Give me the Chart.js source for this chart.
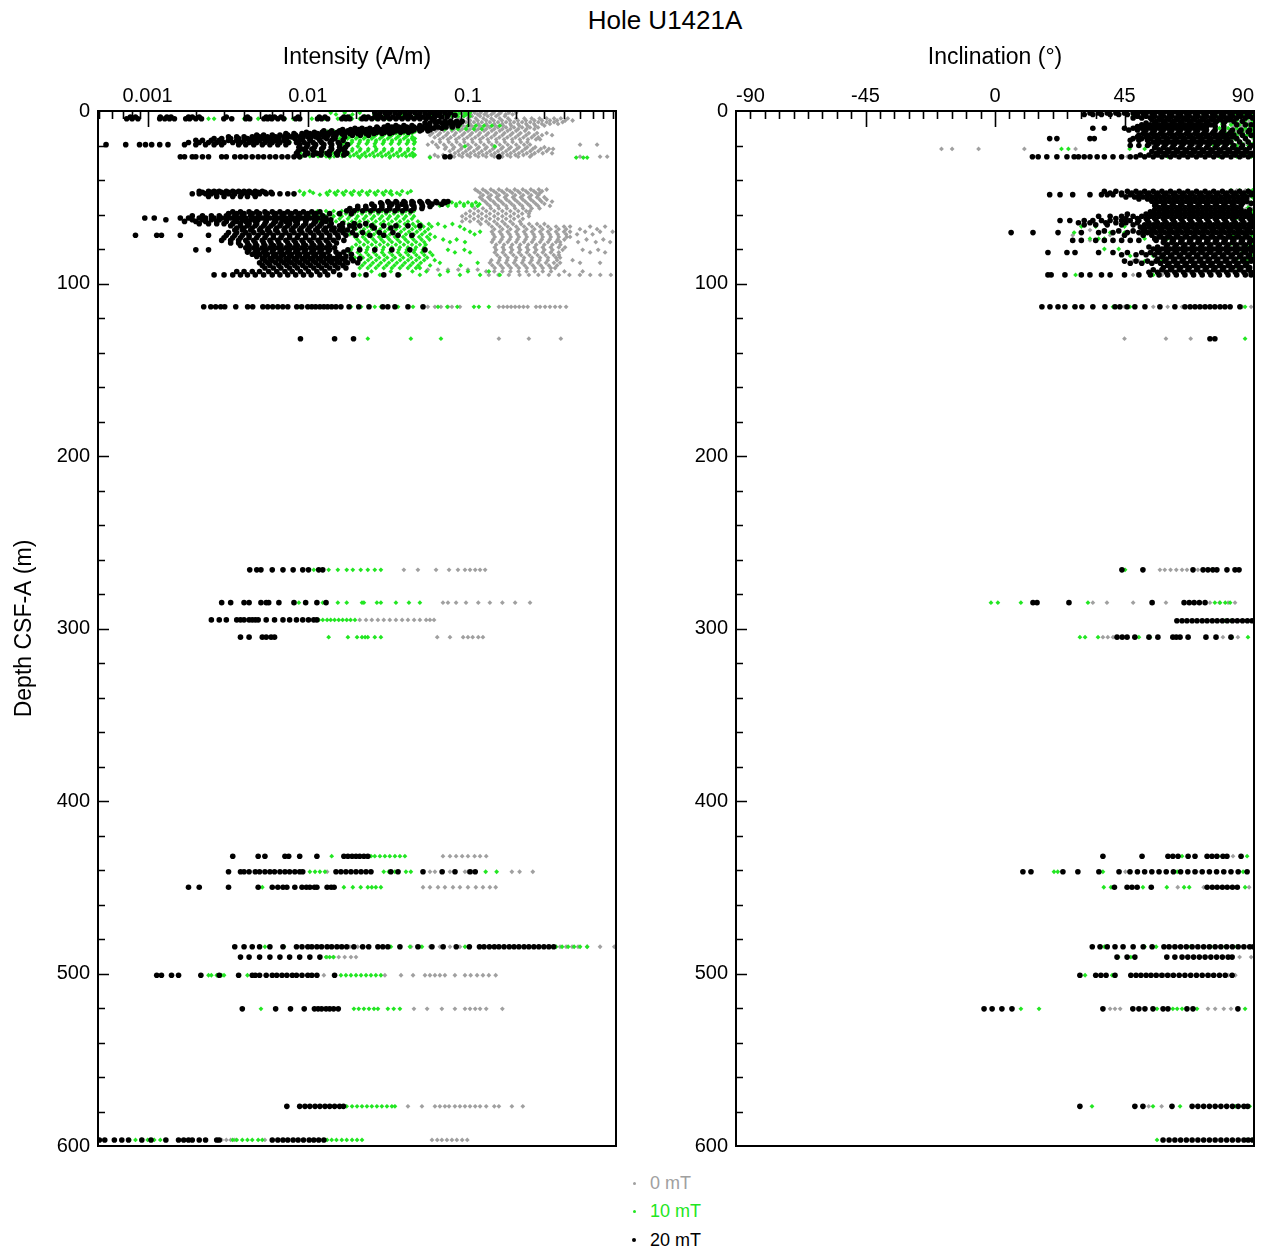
<!DOCTYPE html>
<html>
<head>
<meta charset="utf-8">
<script src="https://cdn.jsdelivr.net/npm/chart.js@4.4.1/dist/chart.umd.min.js"></script>
<style>
  body { margin: 0; background: #fff; font-family: 'Liberation Sans', Arial, sans-serif; }
  #page { position: relative; width: 1267px; height: 1251px; overflow: hidden; }
  #title { position: absolute; left: 0; top: 4px; width: 1330px; text-align: center; font-size: 26px; line-height: 32px; }
  .panel { position: absolute; top: 0; height: 1166px; }
  #intWrap { left: 0; width: 640px; }
  #incWrap { left: 640px; width: 627px; }
  #legend { position: absolute; left: 626px; top: 1169px; font-size: 18px; }
  .key { height: 28.5px; display: flex; align-items: center; }
  .key span.m { width: 16px; display: flex; justify-content: center; margin-right: 8px; }
  .key i { display: block; border-radius: 50%; }
</style>
</head>
<body>
<div id="page">
  <div id="title">Hole U1421A</div>
  <div class="panel" id="intWrap"><canvas id="intChart"></canvas></div>
  <div class="panel" id="incWrap"><canvas id="incChart"></canvas></div>
  <div id="legend"></div>
</div>
<script>
Chart.defaults.font.family = "'Liberation Sans', Arial, sans-serif";
Chart.defaults.color = '#000';

// ── Series / axes ───────────────────────────────────────────
const seriesNames  = ['0 mT', '10 mT', '20 mT'];
const seriesColors = ['#a0a0a0', '#22e622', '#000000'];
const depthLabels = [0, 100, 200, 300, 400, 500, 600];
const intensityLabels = [0.001, 0.01, 0.1];
const inclinationLabels = [-90, -45, 0, 45, 90];

// rows: [depth (m), [values at that depth]]
const intensity0 = [
  [1, [0.06,0.065,0.072,0.08,0.088,0.1,0.11,0.12,0.13,0.145,0.16,0.18,0.2]],
  [2, [0.062,0.069,0.076,0.084,0.093,0.104,0.115,0.127,0.14,0.155,0.172,0.19]],
  [3, [0.0668,0.075,0.0843,0.0944,0.106,0.119,0.133,0.15,0.17]],
  [4.3, [0.07,0.079,0.088,0.1,0.112,0.125,0.14,0.158,0.178,0.2,0.225,0.25,0.28,0.31,0.345,0.38,0.42]],
  [5.5, [0.103,0.115,0.13,0.145,0.163,0.183,0.205,0.23,0.26,0.29,0.325,0.36,0.405,0.45]],
  [6.5, [0.097,0.109,0.122,0.137,0.154,0.173,0.194,0.218,0.245,0.275,0.31,0.345,0.39]],
  [7.5, [0.092,0.103,0.116,0.13,0.146,0.164,0.184,0.206,0.231,0.259,0.29,0.325,0.365]],
  [8.5, [0.083,0.093,0.105,0.118,0.132,0.148,0.166,0.186,0.209,0.235,0.263,0.3]],
  [9.5, [0.0772,0.0866,0.097,0.109,0.122,0.137,0.154,0.173,0.194,0.218,0.244,0.274]],
  [10.5, [0.065,0.073,0.082,0.092,0.103,0.116,0.13,0.146,0.164,0.184,0.206,0.232,0.26]],
  [11.5, [0.0562,0.063,0.0708,0.0794,0.0891,0.1,0.112,0.126,0.141,0.158,0.177,0.2,0.227]],
  [12.8, [0.06,0.067,0.075,0.084,0.095,0.106,0.119,0.134,0.15,0.169,0.19,0.213,0.24,0.27,0.31]],
  [14, [0.058,0.065,0.073,0.082,0.092,0.103,0.116,0.13,0.146,0.164,0.184,0.206,0.231,0.259,0.29,0.335]],
  [15.3, [0.062,0.07,0.078,0.088,0.099,0.111,0.124,0.14,0.157,0.176,0.198,0.222,0.25,0.275]],
  [16.5, [0.0668,0.075,0.0843,0.0944,0.106,0.119,0.133,0.15,0.168,0.189,0.211,0.237,0.266,0.282]],
  [18, [0.06,0.067,0.076,0.085,0.095,0.107,0.12,0.135,0.151,0.17,0.19,0.214,0.235]],
  [19.5, [0.0562,0.0632,0.0708,0.0794,0.0891,0.1,0.112,0.126,0.141,0.158,0.177,0.2,0.224,0.244,0.501,0.64]],
  [21, [0.065,0.073,0.082,0.092,0.104,0.117,0.131,0.147,0.165,0.185,0.208,0.234,0.263,0.3]],
  [22, [0.0718,0.0806,0.0904,0.101,0.114,0.128,0.143,0.161,0.18,0.202,0.227,0.254,0.285,0.32,0.34]],
  [23.3, [0.077,0.087,0.097,0.109,0.122,0.137,0.154,0.173,0.194,0.218,0.245,0.275,0.31]],
  [24.5, [0.0829,0.093,0.104,0.117,0.131,0.147,0.165,0.185,0.208,0.233,0.261,0.293,0.335]],
  [25.5, [0.062,0.07,0.078,0.088,0.099,0.111,0.124,0.14,0.157,0.176,0.198,0.222,0.25]],
  [26.5, [0.0579,0.065,0.073,0.082,0.092,0.103,0.116,0.13,0.146,0.164,0.184,0.206,0.244,0.501,0.668,0.74]],
  [45.5, [0.111,0.124,0.139,0.156,0.175,0.196,0.22,0.247,0.277,0.31]],
  [46.5, [0.115,0.129,0.145,0.163,0.183,0.205,0.23,0.258,0.29]],
  [47.5, [0.119,0.133,0.15,0.168,0.189,0.211,0.237,0.266,0.282]],
  [48.8, [0.124,0.139,0.156,0.175,0.197,0.221,0.248,0.275]],
  [50, [0.119,0.134,0.151,0.17,0.191,0.214,0.241,0.27,0.3]],
  [51.3, [0.123,0.138,0.155,0.174,0.196,0.22,0.247,0.28,0.31]],
  [52.5, [0.128,0.144,0.161,0.181,0.203,0.228,0.256,0.288,0.335]],
  [53.8, [0.132,0.148,0.166,0.187,0.21,0.236,0.265,0.3]],
  [55, [0.137,0.154,0.173,0.194,0.218,0.244,0.274,0.325]],
  [56.5, [0.11,0.124,0.139,0.156,0.175,0.197,0.221,0.25,0.28]],
  [58, [0.103,0.116,0.13,0.146,0.164,0.184,0.206,0.231,0.244]],
  [59.5, [0.097,0.109,0.122,0.137,0.154,0.173,0.194,0.218,0.24]],
  [61, [0.092,0.103,0.116,0.13,0.146,0.164,0.184,0.206,0.24]],
  [62.5, [0.097,0.109,0.122,0.137,0.154,0.173,0.194,0.22]],
  [64, [0.092,0.103,0.116,0.13,0.146,0.164,0.184,0.211]],
  [65.5, [0.12,0.135,0.152,0.17,0.191,0.215,0.241,0.27,0.3]],
  [67, [0.141,0.158,0.177,0.2,0.224,0.251,0.282,0.316,0.355,0.398,0.434,0.579,0.718]],
  [68.5, [0.146,0.164,0.184,0.206,0.232,0.26,0.292,0.328,0.368,0.41,0.5,0.64]],
  [70, [0.141,0.158,0.177,0.2,0.224,0.251,0.282,0.316,0.355,0.398,0.434,0.539,0.668,0.8]],
  [71.5, [0.144,0.162,0.182,0.204,0.229,0.257,0.289,0.324,0.364,0.41,0.48,0.6]],
  [73, [0.147,0.165,0.185,0.208,0.233,0.261,0.293,0.329,0.369,0.414,0.434]],
  [74.5, [0.144,0.162,0.182,0.204,0.229,0.257,0.289,0.324,0.364,0.4,0.55,0.7]],
  [76, [0.141,0.158,0.177,0.2,0.224,0.251,0.282,0.316,0.355,0.376,0.487,0.628,0.772]],
  [77.5, [0.15,0.168,0.189,0.212,0.238,0.267,0.3,0.337,0.378]],
  [79, [0.147,0.165,0.185,0.208,0.233,0.261,0.293,0.329,0.369,0.404]],
  [80.5, [0.15,0.168,0.189,0.212,0.238,0.267,0.3,0.337,0.39,0.52,0.65]],
  [82, [0.147,0.165,0.185,0.208,0.233,0.261,0.293,0.329,0.369,0.579,0.718]],
  [83.5, [0.152,0.171,0.192,0.215,0.242,0.272,0.305,0.343,0.37]],
  [85, [0.158,0.177,0.2,0.224,0.251,0.282,0.316,0.355,0.376]],
  [86.5, [0.14,0.157,0.176,0.198,0.222,0.25,0.28,0.315,0.36,0.45]],
  [88, [0.137,0.154,0.173,0.194,0.218,0.244,0.274,0.307,0.344,0.376,0.501,0.668]],
  [89.5, [0.142,0.16,0.179,0.201,0.226,0.254,0.285,0.32,0.36]],
  [91, [0.147,0.165,0.185,0.208,0.233,0.261,0.293,0.329,0.35]],
  [92, [0.0562,0.065,0.075,0.087,0.1,0.115]],
  [93, [0.13,0.146,0.164,0.184,0.207,0.232,0.261,0.293,0.33,0.4,0.52]],
  [95, [0.135,0.155,0.18,0.21,0.24,0.275,0.32,0.37,0.43,0.5,0.58,0.67,0.78]],
  [113.5, [0.0562,0.0622,0.0678,0.075,0.0794,0.0891,0.156,0.166,0.176,0.186,0.197,0.209,0.222,0.236,0.266,0.282,0.303,0.325,0.35,0.376,0.41]],
  [132, [0.156,0.24,0.38]],
  [266, [0.0398,0.0487,0.0632,0.0762,0.0866,0.0958,0.103,0.111,0.119,0.128]],
  [285, [0.0698,0.075,0.0843,0.0972,0.116,0.137,0.164,0.197,0.244]],
  [295, [0.0211,0.0231,0.0251,0.0274,0.0298,0.0325,0.0355,0.0388,0.0422,0.0461,0.0501,0.0548,0.0579,0.0614]],
  [305, [0.0643,0.0772,0.0933,0.1,0.107,0.116,0.124]],
  [432, [0.0698,0.0772,0.0843,0.092,0.1,0.11,0.119,0.13]],
  [441, [0.0132,0.0579,0.0622,0.0772,0.0958,0.1,0.106,0.188,0.21,0.254]],
  [450, [0.0524,0.0579,0.065,0.0718,0.0806,0.0891,0.1,0.112,0.124,0.137,0.149]],
  [484.5, [0.0103,0.0119,0.0137,0.0158,0.0183,0.0205,0.0224,0.0441,0.0501,0.0579,0.0668,0.0772,0.0891,0.103,0.119,0.137,0.149,0.376,0.41,0.447,0.487,0.555,0.668,0.82]],
  [490.5, [0.0132,0.0144,0.0156,0.017,0.0186,0.02]],
  [501, [0.0126,0.0303,0.0382,0.0454,0.0539,0.0579,0.0622,0.0668,0.0718,0.0829,0.0958,0.104,0.114,0.124,0.135,0.149]],
  [520.5, [0.046,0.0556,0.0687,0.0829,0.0958,0.103,0.111,0.119,0.13,0.164]],
  [577, [0.0422,0.0516,0.0622,0.0668,0.0718,0.0762,0.0829,0.0891,0.0958,0.103,0.111,0.119,0.13,0.146,0.156,0.188,0.22]],
  [596.5, [0.0029,0.0031,0.0033,0.0035,0.0054,0.0596,0.0643,0.0687,0.0739,0.0794,0.0852,0.092,0.099]]
];

const intensity10 = [
  [1, [0.0139,0.017,0.0211,0.035,0.0434,0.0668,0.0772,0.0829,0.0891,0.0958,0.103]],
  [2, [0.015,0.019,0.026,0.031,0.039,0.047,0.06,0.072,0.085,0.098]],
  [3, [0.0183,0.0227,0.0303,0.0388,0.0501,0.0579,0.0739,0.0794,0.0866,0.0944,0.103]],
  [4.5, [0.0024,0.0026,0.004,0.0049,0.0072,0.0081,0.0089,0.0106,0.0128,0.0154,0.0178,0.0189,0.0211,0.0266,0.0316]],
  [8.5, [0.0794,0.0891,0.1,0.112,0.126,0.141,0.158]],
  [10.5, [0.0718,0.0794,0.0866,0.0972,0.109,0.122]],
  [12, [0.0133,0.0147,0.017,0.0197,0.0227,0.0262,0.0303,0.035,0.0404,0.0466]],
  [13, [0.0126,0.014,0.0158,0.0178,0.02,0.0224,0.0251,0.0282,0.0316,0.0355,0.0398,0.0447]],
  [14, [0.0119,0.0133,0.015,0.0168,0.0189,0.0211,0.0237,0.0266,0.0298,0.0335,0.0376,0.0422]],
  [15, [0.0115,0.0129,0.0145,0.0163,0.0183,0.0205,0.023,0.0258,0.029,0.0325,0.0365,0.041,0.045]],
  [16, [0.0158,0.0177,0.02,0.0224,0.0251,0.0282,0.0316,0.0355,0.0398,0.0447,0.0466]],
  [17, [0.0168,0.0189,0.0212,0.0238,0.0267,0.03,0.0336,0.0377,0.0423,0.0458]],
  [18, [0.0077,0.0087,0.017,0.0189,0.0211,0.0237,0.0266,0.0298,0.0335,0.0376,0.0422,0.0466]],
  [19, [0.0165,0.0185,0.0208,0.0233,0.0262,0.0294,0.033,0.037,0.0415,0.046]],
  [20.5, [0.0205,0.0262,0.0958,0.147]],
  [22, [0.019,0.0213,0.0239,0.0268,0.03,0.0337,0.0378,0.0424,0.046]],
  [23, [0.0189,0.0211,0.0237,0.0266,0.0298,0.0335,0.0376,0.0422]],
  [24.3, [0.009,0.0101,0.0114,0.0128,0.0143,0.0161,0.018,0.0202,0.0227,0.0255,0.0286,0.032,0.036,0.0404,0.045]],
  [25.5, [0.0085,0.0096,0.0108,0.0122,0.0137,0.0154,0.0173,0.0194,0.0218,0.0244,0.0274,0.0307,0.0344,0.0388,0.0434,0.0466]],
  [26.3, [0.0092,0.0103,0.0116,0.013,0.0146,0.0164,0.0184,0.0206,0.0231,0.026,0.0291,0.0327,0.0367,0.0412,0.0455]],
  [27, [0.0089,0.0137,0.0211,0.0325,0.0579,0.474,0.525,0.555]],
  [46.5, [0.0089,0.0103,0.0137,0.0154,0.0173,0.0194,0.0218,0.0244,0.0274,0.0307,0.033,0.0388,0.044]],
  [47.5, [0.0095,0.0108,0.0131,0.0147,0.0165,0.0185,0.0208,0.0233,0.0261,0.0293,0.0325,0.036,0.042]],
  [48.5, [0.0082,0.0094,0.0119,0.0133,0.015,0.0168,0.0189,0.0211,0.0237,0.0266,0.0298,0.0335,0.0376]],
  [53, [0.0562,0.0632,0.0708,0.0794,0.0891,0.1,0.112]],
  [54, [0.0595,0.0668,0.075,0.0843,0.0944,0.106,0.118]],
  [55, [0.0668,0.075,0.0843,0.0944,0.106,0.115]],
  [58, [0.0115,0.013,0.0145,0.0163,0.0183,0.0205,0.0231,0.0259,0.0291,0.0325,0.0366,0.041,0.046]],
  [59.5, [0.0109,0.0122,0.0137,0.0154,0.0173,0.0194,0.0218,0.0245,0.0275,0.0308,0.0345,0.0388,0.0435]],
  [61, [0.0103,0.0116,0.013,0.0145,0.0163,0.0183,0.0205,0.0231,0.0259,0.0291,0.0325,0.0366,0.041,0.046]],
  [62.5, [0.0112,0.0126,0.0141,0.0158,0.0178,0.02,0.0224,0.0251,0.0282,0.0316,0.0355,0.0398,0.0447]],
  [64, [0.0119,0.0133,0.015,0.0168,0.0189,0.0211,0.0237,0.0266,0.0298,0.0335,0.0376,0.0422,0.0487]],
  [65.5, [0.018,0.0202,0.0227,0.0255,0.0286,0.032,0.036,0.0404,0.0453,0.0508,0.057,0.065,0.08]],
  [67, [0.0187,0.021,0.0235,0.0264,0.0296,0.0333,0.0374,0.042,0.047,0.0528,0.0592,0.0718,0.0891]],
  [68.5, [0.0178,0.02,0.0224,0.0252,0.0283,0.0317,0.0356,0.04,0.0449,0.0503,0.0565,0.095]],
  [70, [0.017,0.0191,0.0214,0.024,0.027,0.0303,0.034,0.0382,0.0429,0.048,0.0539,0.103,0.119]],
  [71.5, [0.0183,0.0205,0.0231,0.0259,0.029,0.0326,0.0366,0.041,0.046,0.0517,0.058,0.11]],
  [73, [0.0197,0.0221,0.0248,0.0279,0.0313,0.035,0.0394,0.0442,0.0496,0.0556,0.0622]],
  [74.5, [0.0204,0.0229,0.0257,0.0288,0.0323,0.0363,0.0407,0.0457,0.0513,0.0575,0.07,0.085]],
  [76, [0.0211,0.0237,0.0266,0.0298,0.0335,0.0376,0.0422,0.0474,0.0533,0.0772,0.0958]],
  [77.5, [0.02,0.0224,0.0251,0.0282,0.0316,0.0355,0.0398,0.0447,0.0501,0.0545]],
  [79, [0.0189,0.0211,0.0237,0.0266,0.0298,0.0335,0.0376,0.0422,0.0474,0.0533]],
  [80.5, [0.0186,0.0208,0.0234,0.0262,0.0294,0.033,0.037,0.0415,0.0466,0.0523,0.075,0.095]],
  [82, [0.0183,0.0205,0.0231,0.0259,0.0291,0.0325,0.0366,0.041,0.046,0.0516,0.058,0.0829,0.103]],
  [83.5, [0.019,0.0213,0.0239,0.0268,0.03,0.0337,0.0378,0.0424,0.0476,0.0534,0.06]],
  [85, [0.0197,0.0221,0.0248,0.0279,0.0313,0.035,0.0394,0.0442,0.0496,0.0556]],
  [86.5, [0.0212,0.0238,0.0267,0.03,0.0336,0.0377,0.0423,0.0475,0.0533,0.062]],
  [88, [0.0227,0.0255,0.0286,0.0321,0.036,0.0404,0.0453,0.0508,0.0668,0.115]],
  [89.5, [0.0219,0.0246,0.0276,0.031,0.0347,0.039,0.0437,0.049,0.058,0.09]],
  [91, [0.0211,0.0237,0.0266,0.0298,0.0335,0.0376,0.0422,0.0474,0.0501]],
  [93, [0.025,0.033,0.045,0.055,0.075,0.1,0.135]],
  [95, [0.0211,0.0282,0.0376,0.0501,0.0668,0.0891,0.119,0.158]],
  [113.5, [0.0064,0.007,0.0089,0.0186,0.0215,0.0262,0.0286,0.0316,0.0366,0.0454,0.0524,0.065,0.0743,0.0858,0.109,0.117,0.135]],
  [132, [0.0237,0.044,0.0678]],
  [266, [0.0109,0.0135,0.0154,0.0175,0.0191,0.0214,0.0237,0.0262,0.0286]],
  [285, [0.0088,0.0124,0.0154,0.0175,0.0218,0.0224,0.027,0.0286,0.0355,0.0428,0.0501]],
  [295, [0.0117,0.0124,0.0132,0.0139,0.0147,0.0156,0.0165,0.0175,0.0185,0.0197]],
  [305, [0.0135,0.0178,0.0203,0.0218,0.0228,0.0237,0.0262,0.0286]],
  [432, [0.0141,0.0248,0.0262,0.0282,0.0303,0.0325,0.035,0.0376,0.0404]],
  [441, [0.0092,0.0103,0.0111,0.0119,0.0128,0.0298,0.032,0.035,0.041,0.044,0.129,0.151]],
  [450, [0.0052,0.0114,0.0168,0.0191,0.0214,0.0237,0.0251,0.0266,0.0286]],
  [484.5, [0.0054,0.0071,0.033,0.0434,0.0516,0.0958,0.355,0.387,0.422,0.46,0.501,0.555]],
  [490.5, [0.013,0.0137,0.0145]],
  [501, [0.0024,0.0025,0.0027,0.0029,0.003,0.0042,0.0161,0.0173,0.0186,0.02,0.0215,0.0231,0.0248,0.0266,0.0286]],
  [520.5, [0.0051,0.0194,0.0208,0.0224,0.0241,0.0259,0.0274,0.0316,0.0344,0.0376]],
  [577, [0.0175,0.0189,0.0203,0.0218,0.0234,0.0251,0.027,0.029,0.0312,0.0335,0.035]],
  [596.5, [0.00077,0.00084,0.00092,0.001,0.0011,0.0012,0.0034,0.0036,0.0039,0.0042,0.0045,0.0049,0.0052,0.0132,0.0141,0.0151,0.0163,0.0175,0.0189,0.0203,0.0218]]
];

const intensity20 = [
  [1, [0.0262,0.0282,0.0303,0.0325,0.035,0.0376,0.0404,0.0434,0.0466,0.0501,0.0539,0.0579,0.0622,0.0668,0.0718,0.0772]],
  [2.5, [0.0274,0.0316,0.0366,0.0422,0.0487,0.0562,0.065,0.075,0.083]],
  [3.5, [0.00078,0.00084,0.0012,0.00132,0.0014,0.0018,0.0019,0.0021,0.0031,0.0042,0.0055,0.0058,0.0062,0.0068,0.0087,0.0118,0.0128,0.0168,0.0178,0.0224,0.0238,0.0262,0.0286,0.031,0.034,0.037,0.0404,0.044,0.048,0.0524,0.057,0.062,0.068,0.074]],
  [4.5, [0.00074,0.0008,0.00087,0.00119,0.00128,0.00137,0.00147,0.00173,0.00183,0.002,0.00217,0.00299,0.00335,0.0041,0.00434,0.00532,0.00562,0.00596,0.0065,0.00708,0.0084,0.0089,0.0115,0.0122,0.0133,0.0163,0.0173,0.0183,0.0218,0.0231,0.0251,0.0274,0.0298,0.0325,0.0355,0.0388,0.0422,0.0461,0.0501,0.0548,0.0596]],
  [6, [0.062,0.066,0.072,0.078,0.085,0.092]],
  [7, [0.0539,0.0579,0.0632,0.0687,0.075,0.082,0.089]],
  [8.5, [0.0316,0.0355,0.0398,0.0447,0.0501,0.0562,0.0632,0.0708,0.0794,0.0866]],
  [9.3, [0.027,0.03,0.0335,0.037,0.0415,0.046,0.052,0.058,0.065,0.073,0.08]],
  [10, [0.0197,0.0218,0.0244,0.0274,0.0307,0.0344,0.0388,0.0434,0.0487,0.0548,0.0612,0.0687]],
  [10.8, [0.0165,0.0185,0.0208,0.0232,0.026,0.029,0.0325,0.0365,0.041,0.046,0.0515,0.058]],
  [11.5, [0.0126,0.0141,0.0158,0.0178,0.02,0.0224,0.0251,0.0282,0.0316,0.0355,0.0398,0.0447,0.0501,0.0562]],
  [12.3, [0.0098,0.011,0.0123,0.0137,0.0153,0.0172,0.0193,0.0216,0.0242,0.027,0.0302,0.034,0.038,0.0425]],
  [13, [0.0073,0.0082,0.0092,0.0103,0.0115,0.013,0.0145,0.0163,0.0183,0.0205,0.0231,0.0259,0.0291,0.0325]],
  [14, [0.0048,0.0053,0.006,0.0067,0.0075,0.0084,0.0094,0.0106,0.0119,0.0134,0.015,0.0168,0.019,0.0213,0.024]],
  [15, [0.0032,0.0036,0.004,0.0045,0.005,0.0056,0.0063,0.0071,0.0079,0.0089,0.01,0.0112,0.0126,0.0145,0.017]],
  [16, [0.0026,0.0029,0.0033,0.0037,0.0042,0.0047,0.0053,0.0059,0.0066,0.0074,0.0083,0.0093,0.0104,0.0117,0.0131,0.0148]],
  [17, [0.002,0.0022,0.0025,0.0028,0.0032,0.0036,0.004,0.0045,0.005,0.0056,0.0063,0.0071,0.0089,0.0103,0.0119,0.0141,0.0166]],
  [18.3, [0.0018,0.0021,0.0024,0.0027,0.003,0.0034,0.0038,0.0043,0.0048,0.0054,0.006,0.0067,0.0076,0.0085,0.0095,0.0108,0.0122,0.0138,0.0155]],
  [19.5, [0.00055,0.00073,0.00089,0.00097,0.00106,0.00119,0.00134,0.0017,0.002,0.0023,0.0026,0.0029,0.0037,0.0041,0.0046,0.0052,0.0058,0.0065,0.0073,0.0089,0.01,0.0112,0.0126,0.0141,0.0158,0.0177]],
  [21, [0.0088,0.0098,0.011,0.0125,0.014,0.0158,0.0172]],
  [22, [0.0092,0.0106,0.0122,0.0141,0.0163]],
  [23.3, [0.0087,0.0097,0.0109,0.0122,0.0137,0.0155,0.017]],
  [24.5, [0.0085,0.01,0.0114,0.0132,0.0151,0.0175]],
  [25.5, [0.0086,0.0096,0.0108,0.0121,0.0136,0.0153,0.0168]],
  [26.5, [0.0016,0.0017,0.0019,0.002,0.0022,0.0024,0.0029,0.0031,0.0035,0.0038,0.0041,0.0045,0.0049,0.0053,0.0058,0.0063,0.0069,0.0075,0.0082,0.0089,0.0718,0.0772,0.156]],
  [46.5, [0.0021,0.0024,0.0026,0.0028,0.0031,0.0034,0.0037,0.004,0.0043,0.0047,0.0052]],
  [47.2, [0.0022,0.0025,0.0027,0.0029,0.0032,0.0035,0.0038,0.0041,0.0044,0.0049,0.0054,0.0059]],
  [48, [0.0019,0.0021,0.0023,0.0025,0.0027,0.003,0.0032,0.0035,0.0039,0.0042,0.0046,0.005,0.0055,0.006,0.0067,0.0075,0.0082]],
  [49.5, [0.0024,0.0027,0.003,0.0034,0.0038,0.0042,0.0047]],
  [52.5, [0.0316,0.0355,0.0398,0.0447,0.0501,0.0562,0.0632,0.0708,0.075]],
  [53.2, [0.0285,0.032,0.036,0.0405,0.0455,0.051,0.057,0.064,0.072]],
  [54, [0.0251,0.029,0.0335,0.0388,0.0447,0.0516,0.0596,0.0687]],
  [55.3, [0.0205,0.023,0.026,0.029,0.0325,0.0365,0.041,0.046,0.052,0.058]],
  [56.5, [0.0183,0.0205,0.0231,0.0259,0.029,0.0325,0.0365,0.041,0.046,0.0516]],
  [57.8, [0.0175,0.0195,0.022,0.0247,0.0277,0.031,0.035,0.039,0.044]],
  [58.5, [0.0034,0.0038,0.0043,0.0048,0.0054,0.006,0.0067,0.0075,0.0084,0.0094,0.0106,0.0119]],
  [59.5, [0.0032,0.0036,0.004,0.0045,0.005,0.0056,0.0063,0.0071,0.0079,0.0089,0.01,0.0112,0.0137,0.0158,0.0187]],
  [60.8, [0.0019,0.0022,0.0025,0.0028,0.0031,0.0035,0.0039,0.0044,0.0049,0.0055,0.0062,0.0069,0.0078,0.0087,0.0098,0.011,0.0124]],
  [62, [0.00096,0.0011,0.0016,0.0018,0.0021,0.0023,0.0026,0.0029,0.0033,0.0037,0.0041,0.0046,0.0052,0.0058,0.0065,0.0073,0.0082,0.0092,0.0103,0.0116,0.013]],
  [63, [0.0013,0.0019,0.0022,0.0025,0.0028,0.0031,0.0035,0.0039,0.0044,0.0049,0.0055,0.0062,0.0069,0.0078,0.0087,0.0098,0.011,0.0124,0.0139]],
  [64, [0.0017,0.002,0.0023,0.0027,0.0031,0.0036,0.0041,0.0047,0.0055,0.0063,0.0073,0.0084,0.0097,0.0112,0.013]],
  [65.3, [0.0021,0.0024,0.0027,0.003,0.0034,0.0038,0.0043,0.0048,0.0054,0.0061,0.0068,0.0077,0.0086,0.0097,0.0109,0.0122,0.014,0.0165,0.0195,0.023]],
  [66.5, [0.0033,0.0038,0.0042,0.0047,0.0053,0.0059,0.0067,0.0075,0.0084,0.0094,0.0105,0.0119,0.0137,0.0158,0.0183,0.0211,0.0251,0.0298,0.0355,0.0422,0.0501]],
  [67.8, [0.0036,0.004,0.0045,0.0051,0.0057,0.0064,0.0072,0.0081,0.0091,0.0102,0.0115,0.0129,0.0146,0.0165,0.0195,0.026,0.033]],
  [69, [0.0035,0.0039,0.0044,0.005,0.0056,0.0063,0.0071,0.0079,0.0089,0.01,0.0112,0.0126,0.0141,0.0158,0.0177]],
  [70.5, [0.0032,0.0036,0.0041,0.0046,0.0052,0.0058,0.0065,0.0073,0.0082,0.0092,0.0104,0.0117,0.0131,0.0148,0.0166,0.019,0.022,0.028,0.034]],
  [72, [0.00084,0.00114,0.00122,0.0016,0.0024,0.0031,0.0035,0.0039,0.0043,0.0049,0.0055,0.0061,0.0069,0.0077,0.0087,0.0097,0.0109,0.0122,0.0137,0.0154,0.0173,0.02,0.0244,0.0298,0.0366,0.0447]],
  [73.5, [0.003,0.0034,0.0038,0.0043,0.0048,0.0054,0.0061,0.0068,0.0077,0.0086,0.0097,0.0109,0.0122,0.0137,0.0155]],
  [75, [0.0029,0.0033,0.0037,0.0041,0.0046,0.0052,0.0058,0.0065,0.0073,0.0082,0.0092,0.0103,0.0116,0.013,0.0145,0.0168]],
  [76.5, [0.0033,0.0037,0.0042,0.0047,0.0053,0.0059,0.0066,0.0075,0.0084,0.0094,0.0106,0.0119,0.0134,0.0151]],
  [78, [0.0038,0.0043,0.0048,0.0054,0.0061,0.0068,0.0077,0.0086,0.0097,0.0109,0.0122,0.0137]],
  [79.3, [0.0041,0.0046,0.0052,0.0058,0.0065,0.0073,0.0082,0.0092,0.0104,0.0116,0.013,0.0147]],
  [80.5, [0.002,0.0024,0.0043,0.0049,0.0055,0.0061,0.0069,0.0077,0.0087,0.0097,0.0109,0.0122,0.0137,0.0178,0.0211,0.0262,0.0335,0.0434,0.0539]],
  [81.8, [0.0042,0.0047,0.0053,0.006,0.0067,0.0075,0.0084,0.0095,0.0106,0.0119,0.0134,0.015,0.0168]],
  [83, [0.0045,0.005,0.0056,0.0063,0.0071,0.0079,0.0089,0.01,0.0112,0.0126,0.0158,0.0187]],
  [84.3, [0.0048,0.0054,0.0061,0.0068,0.0077,0.0086,0.0097,0.0109,0.0122,0.0137,0.0154,0.0173]],
  [85.5, [0.0052,0.0058,0.0065,0.0073,0.0082,0.0092,0.0103,0.0116,0.013,0.0145,0.0163,0.0187,0.0211]],
  [86.8, [0.0054,0.006,0.0068,0.0076,0.0085,0.0096,0.0108,0.0121,0.0136,0.0152,0.0171,0.0192]],
  [88, [0.005,0.0056,0.0063,0.0071,0.0079,0.0089,0.01,0.0112,0.0126,0.0141,0.0158,0.0177,0.0205]],
  [89.5, [0.0052,0.0058,0.0066,0.0074,0.0083,0.0093,0.0104,0.0117,0.0131,0.0148,0.0166]],
  [91, [0.0054,0.0061,0.0068,0.0077,0.0086,0.0097,0.0109,0.0122,0.0137,0.0154,0.0173]],
  [93, [0.0036,0.004,0.0045,0.005,0.0057,0.0064,0.0072,0.008,0.009,0.0101,0.0114,0.0128,0.0145]],
  [95, [0.0026,0.003,0.0034,0.0038,0.0042,0.0047,0.0053,0.006,0.0067,0.0075,0.0084,0.0094,0.0105,0.0119,0.0133,0.0158,0.0193,0.0231,0.0298,0.0366]],
  [113.5, [0.00224,0.00248,0.00266,0.00286,0.00303,0.00355,0.00421,0.00453,0.00524,0.00562,0.00604,0.0065,0.00698,0.0075,0.00853,0.00916,0.01,0.0106,0.0112,0.0119,0.0126,0.0133,0.0141,0.015,0.0161,0.0181,0.0208,0.0241,0.0294,0.0316,0.035,0.0422,0.0524]],
  [132, [0.009,0.0147,0.0193]],
  [266, [0.00434,0.0048,0.0051,0.006,0.007,0.0081,0.0093,0.0101,0.0117,0.0124]],
  [285, [0.0029,0.0033,0.004,0.0043,0.0051,0.0055,0.0057,0.0066,0.0082,0.0097,0.0114,0.013]],
  [295, [0.0025,0.0028,0.0031,0.0036,0.0038,0.004,0.0043,0.0045,0.0047,0.0049,0.0055,0.0062,0.007,0.0077,0.0085,0.0093,0.0101,0.0109,0.0114]],
  [305, [0.0038,0.0043,0.0052,0.0055,0.0059,0.0062]],
  [432, [0.0034,0.0049,0.0054,0.0072,0.0076,0.0089,0.0114,0.0168,0.0178,0.0189,0.02,0.0211,0.0224,0.0237]],
  [441, [0.0032,0.0038,0.004,0.0043,0.0047,0.005,0.0054,0.0058,0.0062,0.0067,0.0072,0.0077,0.0083,0.0089,0.0093,0.015,0.0161,0.0173,0.0186,0.02,0.0215,0.0231,0.0248,0.033,0.0366,0.0524,0.069,0.083,0.103,0.111]],
  [450, [0.0018,0.0021,0.0032,0.0049,0.006,0.0065,0.007,0.0074,0.0083,0.0092,0.0098,0.0103,0.011,0.0114,0.0132,0.014,0.0146]],
  [484.5, [0.0035,0.004,0.0045,0.005,0.0058,0.007,0.0085,0.0092,0.01,0.0106,0.0114,0.0122,0.0132,0.0141,0.0152,0.0163,0.0175,0.0194,0.022,0.024,0.0274,0.0294,0.0316,0.0376,0.0487,0.0596,0.07,0.0845,0.102,0.118,0.126,0.136,0.146,0.156,0.168,0.181,0.194,0.208,0.224,0.24,0.258,0.277,0.298,0.32,0.343]],
  [490.5, [0.0038,0.0043,0.005,0.0058,0.0067,0.0077,0.0089,0.0103,0.0119]],
  [501, [0.00114,0.00122,0.00141,0.00156,0.00215,0.0028,0.0037,0.0045,0.0047,0.005,0.0055,0.006,0.0064,0.0069,0.0074,0.008,0.0085,0.0092,0.01,0.0106,0.0114,0.0147]],
  [520.5, [0.0039,0.0063,0.0078,0.0095,0.011,0.0116,0.0122,0.013,0.0137,0.0145,0.0155]],
  [577, [0.0074,0.0089,0.0096,0.0103,0.0111,0.0119,0.0128,0.0137,0.0147,0.0158,0.0167]],
  [596.5, [0.0005,0.00054,0.00062,0.00069,0.00076,0.00092,0.00105,0.0013,0.00156,0.00168,0.0018,0.0019,0.0021,0.0023,0.0027,0.0028,0.006,0.0065,0.007,0.0075,0.0081,0.0087,0.0094,0.0102,0.0109,0.0117,0.0126]]
];

const inclination0 = [
  [0.5, [80,84,87,89.5]], [1.5, [85.5,88.5]], [2.5, [83,86,89]], [3.5, [84.5,87.5,90]], [4.5, [84,87,89.5]],
  [5.5, [85.5,88.5]], [7, [82,85,88,90]], [8, [84.5,87.5,90]], [9, [83,86,89]], [10, [85.5,88.5]],
  [11, [84,87,89.5]], [12, [84,86.5,89]], [13, [82,85,88]], [14, [85.5,88.5]], [15.5, [84,87,89.5]],
  [16.5, [84.5,87.5,90]], [18, [85,88]], [19, [86.5,89.5]], [20, [55,70,86,89]],
  [22, [-18.6,-14.9,-5.7,10.2,28]], [24, [84,87,89.5]], [26.5, [46,63,86,89]],
  [46, [84,87,89.5]], [48.5, [86,89]], [51, [85,88]], [53, [84,87,90]], [54, [82,85,88,90]],
  [55.5, [85.5,88.5]], [57, [84,87,89.5]], [58.5, [85,88]], [60, [86,89]], [63, [85,88]], [66, [86,89]],
  [69, [33,38,84,88]], [72, [27,40,45,60,86,89]], [75, [33,50,88]], [78, [85,89]], [82, [46,60,86]],
  [85, [87,89]], [87, [48,50,53,57,62,86,89]], [91, [84,88]], [95, [37,48,58,60,89]],
  [113.5, [38,45,55,60,65,72,80,86,89]],
  [132, [45,59.4,68]],
  [266, [57.3,59,61,63,65,66.7,70.5]],
  [285, [34,38.9,48,59.4,74.7,78,81,83.4]],
  [305, [37.5,39.2,41,79.2,84.4]],
  [432, [82.7]],
  [441, [43.1,45.3,57,70]],
  [450, [63.5,72.5,88.3]],
  [484.5, [60,63,66,70,74,78,82,86,89]],
  [490.5, [85,89]],
  [501, [57,59,61,75,78,81,83.5]],
  [520.5, [40,41.7,43.5,74,76.5,79.5,82]],
  [577, [53.4,57.9]]
];

const inclination10 = [
  [1, [64,72,80,84,87,89]], [2, [79,83,86.5,89.5]], [3, [48,77,82,86,89]], [4, [80,84.5,88]],
  [5.5, [78,81,84,87,89.5]], [7, [79,83,86.5,89.5]], [8, [76,79,82,85,88]], [10, [45,78,81,84,87,89.5]],
  [11.5, [79,82.5,86,89]], [12.5, [80,83,86,89]], [14, [77,80.5,84,87.5]], [15, [78,81,84,87,89.5]],
  [16.5, [80,83.5,87]], [17.5, [82,85,88]], [19, [78,82,86,89.5]], [20, [50,76,80,84,88]],
  [21.5, [80,84,88]], [22, [23.1,25.5,46.8,52]], [24, [79,82,85,88]], [25.5, [80,84,87.5]],
  [26.5, [52,60,78,84,89]],
  [46, [82,85,88,89.5]], [48.5, [84,87,89.5]], [50, [83,86.5,89.5]], [53, [86,89]], [56, [80,84,88]],
  [58, [82,86,89.5]], [60, [84,87,89.5]], [62, [84,88]], [64, [80,86,89]], [67, [30,35,45,75,86,89]],
  [70.5, [27.5,40,45,84,88]], [72, [83,87,89.5]], [74, [33,36,38,52,60,86,89]], [77, [82,86,89.5]],
  [79, [84,88]], [80, [38,43,62,85,89]], [82, [86,89.5]], [84, [47,55,85,89]], [86, [84,88]],
  [87, [52,58,62,87,89.5]], [90, [84,88]], [92, [85,88.5]], [95, [28,40,55,89]],
  [113.5, [27.5,41,46.9,86.9]],
  [132, [86.9]],
  [266, [45.2,75.4]],
  [285, [-1.4,1,9,32.3,76.4,78.2,80,81.7]],
  [295.5, [80,82]],
  [305, [29.5,31.3,35.8,50,53.9,82.3,87.9]],
  [432, [65,77.5,87.6]],
  [441, [20.5,21.8,37.5,46.9,63.3,86.2]],
  [450, [37.8,40.3,51.4,59.7,65.7,67.5,86.9]],
  [484.5, [36.5,38,52,56,68,75,80,84]],
  [490.5, [42.8,47.2,79]],
  [501, [31.3,40.7,47.2]],
  [520.5, [9,15.3,47.9,56.3,61.8,63.3,65,70.2,86.9]],
  [577, [33.7,54.9,64.3,83.5,86.2,88.5]],
  [596.5, [56.3,87.5,89]]
];

const inclination20 = [
  [0.5, [50,53,56,59,62,65,68,71,74,77,80,83,86,89]],
  [1.2, [33,36,39,42,45,48,51.5,54.5,57.5,60.5,63.5,66.5,69.5,72.5,75.5,78.5,81.5,84.5,87.5]],
  [2, [31,34,37,40,43,46,49,52,55,58,61,64,67,70,73,76,79,82,85,88]],
  [3, [49.5,52.5,55.5,58.5,61.5,64.5,67.5,70.5,73.5,76.5,79.5,82.5,85.5,88.5]],
  [4, [48,51,54,57,60,63,66,69,72,75,78,81,84,87,89.5]],
  [5, [54.5,57.5,60.5,63.5,66.5,69.5,72.5,75.5,78.5,81.5]],
  [6, [56,59,62,65,68,71,74,77,80,83,86]],
  [7, [52.5,55.5,58.5,61.5,64.5,67.5,70.5,73.5,76.5,79.5]],
  [8, [51,54,57,60,63,66,69,72,75,84,87,89]],
  [9, [49.5,52.5,55.5,58.5,61.5,64.5,67.5,70.5,73.5,76.5,79.5]],
  [10, [34,38,45,48,51,54,57,60,63,66,69,72]],
  [11, [46.5,49.5,52.5,55.5,58.5,61.5,64.5,67.5,70.5,73.5,76.5,79.5,82.5,85.5,88.5]],
  [12, [52,55,58,61,64,67,70,73,76,79,82,85,88]],
  [13, [51.5,54.5,57.5,60.5,63.5,66.5,69.5,72.5,75.5,78.5,81.5]],
  [14, [50,53,56,59,62,65,68,71,74,77,80,83,86,89]],
  [15, [49.5,52.5,55.5,58.5,61.5,64.5,67.5,70.5,73.5,76.5,79.5,82.5]],
  [16, [19,21.5,33,34.5,48,51,54,57,60,63,66,69,72,75,78,81,84,87]],
  [17, [47,50,53,56.5,59.5,62.5,65.5,68.5,71.5,74.5,77.5,80.5]],
  [18, [55,58,61,64,67,70,73,76,79,82,85,88]],
  [19, [53.5,56.5,59.5,62.5,65.5,68.5,71.5,74.5,77.5,80.5]],
  [20, [47,50,53,56,59,62,65,68,71,74,77,80,83,86,89]],
  [21.3, [55.5,58.5,61.5,64.5,67.5,70.5,73.5,76.5,79.5,82.5,85.5,88.5]],
  [22.5, [57,60,63,66,69,72,75,78,81,84,87]],
  [23.5, [54.5,57.5,60.5,63.5,66.5,69.5,72.5,75.5,78.5,81.5,84.5,87.5]],
  [24.5, [56,59,62,65,68,71,74,77,80,83,86,89]],
  [25.5, [50.5,53.5,56.5,59.5,62.5,65.5,68.5,71.5,74.5,77.5,80.5,83.5,86.5,89]],
  [26.5, [13,15,18,21.5,25,27.5,29,31,33,35.5,38,41,44,47,49,52,55,58,61,64,67,70,73,76,79,82,85,88]],
  [46.5, [38,42,46,49,52,55,58,61,64,67,70,73,76,79,82,85,88]],
  [47.5, [40,44,47.5,50.5,53.5,56.5,59.5,62.5,65.5,68.5,71.5,74.5,77.5,80.5,83.5,86.5,89]],
  [48.5, [19,22.6,27,33,37,39,41,44,47,50,53,56,59,62,65,68,71,74,77,80,83,86,89]],
  [49.8, [45.5,48.5,51.5,54.5,57.5,60.5,63.5,66.5,69.5,72.5,75.5,78.5,81.5,84.5,87.5]],
  [51, [50,53,56,59,62,65,68,71,74,77,80,83,86]],
  [52.3, [54.5,57.5,60.5,63.5,66.5,69.5,72.5,75.5,78.5,81.5,84.5,87.5]],
  [53.5, [56,59,62,65,68,71,74,77,80,83,86,89]],
  [54.8, [55.5,58.5,61.5,64.5,67.5,70.5,73.5,76.5,79.5,82.5,85.5]],
  [56, [57,60,63,66,69,72,75,78,81,84]],
  [57.3, [55.5,58.5,61.5,64.5,67.5,70.5,73.5,76.5,79.5,82.5,85.5,88.5]],
  [58.5, [54,57,60,63,66,69,72,75,78,81,84,87]],
  [59.8, [46,52.5,55.5,58.5,61.5,64.5,67.5,70.5,73.5,76.5,79.5,82.5,85.5,88.5]],
  [61, [36,40,44,48,51,54,57,60,63,66,69,72,75,78,81,84,87,89]],
  [62.3, [42,45.5,49.5,52.5,55.5,58.5,61.5,64.5,67.5,70.5,73.5,76.5,79.5,82.5,85.5,88.5]],
  [63.5, [22.6,26,31,34,37,40,44,47,50,53,56,59,62,65,68,71,74,77,80,83,86,89]],
  [64.8, [29,33,38.5,42,45.5,49.5,53.5,56.5,59.5,62.5,65.5,68.5,71.5,74.5,77.5,80.5,83.5,86.5,89]],
  [66, [31,35,39,44,48,52,55,58,61,64,67,70,73,76,79,82,85,88]],
  [67.3, [50.5,53.5,56.5,59.5,62.5,65.5,68.5,71.5,74.5,77.5,80.5,83.5,86.5,89]],
  [68.5, [52,55,58,61,64,67,70,73,76,79,82,85,88]],
  [69.5, [38,43,48,51.5,54.5,57.5,60.5,63.5,66.5,69.5,72.5,75.5,78.5,81.5,84.5,87.5]],
  [70.5, [5.6,13.2,21.9,30,36,41,46,50,53,56,59,62,65,68,71,74,77,80,83,86,89]],
  [72, [45,51.5,54.5,57.5,60.5,63.5,66.5,69.5,72.5,75.5,78.5,81.5,84.5,87.5]],
  [73, [57,60,63,66,69,72,75,78,81,84,87]],
  [74, [55.5,58.5,61.5,64.5,67.5,70.5,73.5,76.5,79.5,82.5,85.5,88.5]],
  [75, [27,30,35,38,41,44,47,50,56,59,62,65,68,71,74,77,80,83,86,89]],
  [76.3, [58.5,61.5,64.5,67.5,70.5,73.5,76.5,79.5,82.5,85.5,88.5]],
  [77.5, [60,63,66,69,72,75,78,81,84,87]],
  [78.8, [53.5,56.5,59.5,62.5,65.5,68.5,71.5,74.5,77.5,80.5,83.5,86.5,89]],
  [80, [55,58,61,64,67,70,73,76,79,82,85,88]],
  [81, [56.5,59.5,62.5,65.5,68.5,71.5,74.5,77.5,80.5,83.5,86.5,89]],
  [82, [18.4,25,27.8,36,41,46,51,54,57,60,63,66,69,72,75,78,81,84,87]],
  [83.3, [44,49,52.5,55.5,58.5,61.5,64.5,67.5,70.5,73.5,76.5,79.5,82.5,85.5,88.5]],
  [84.5, [58,61,64,67,70,73,76,79,82,85,88]],
  [85.8, [56.5,59.5,62.5,65.5,68.5,71.5,74.5,77.5,80.5,83.5,86.5,89]],
  [87, [45,49,53,56,59,62,65,68,71,74,77,80,83,86,89]],
  [88.3, [47,51,54.5,57.5,60.5,63.5,66.5,69.5,72.5,75.5,78.5,81.5,84.5,87.5]],
  [89.5, [60,63,66,69,72,75,78,81,84,87]],
  [90.8, [58.5,61.5,64.5,67.5,70.5,73.5,76.5,79.5,82.5,85.5,88.5]],
  [92, [55,58,61,64,67,70,73,76,79,82,85,88]],
  [93.5, [53.5,56.5,59.5,62.5,65.5,68.5,71.5,74.5,77.5,80.5,83.5,86.5,89]],
  [95, [18.4,19.5,24.3,30,33,37,40,45,50,54,57,60,63,66,69,72,75,78,81,84,87,89]],
  [113.5, [16.3,19.1,21.9,24.3,27.8,30.2,34,38.2,41.7,43.4,45.9,48.6,52.1,57.3,62.5,66,67.8,69.5,71.2,73,74.7,76.4,78.2,79.9,81.7,85.1]],
  [132, [74.7,76.4]],
  [266, [44.1,51.4,68.8,72.3,74,75.7,77.1,80.6,83.4,84.8]],
  [285, [13.2,14.6,25.7,54.6,65.7,67.5,69.2,71,73]],
  [295.5, [63.2,65,66.7,68.5,70.2,72,73.7,75.5,77.2,79,80.7,82.5,84.2,86,87.7,89.3]],
  [305, [42.4,44.2,45.9,48.6,53.5,56.6,61.8,63,64.3,67.1,73.3,76.8,82]],
  [432, [37.5,51.1,60.1,61.8,63.6,67.1,69.5,73.7,75.4,77.1,79.2,80.6,85.5]],
  [441, [9.7,12.5,23.6,28.8,36.1,43.1,46.9,49.5,52,54.5,57,59.5,62,64.5,67,69.5,72,74.5,77,79.5,82,84.5,87.6]],
  [450, [41.5,45.9,47.6,49.4,54.3,73.7,75.5,77.2,79,80.7,82.5,84.2]],
  [484.5, [33.8,36.5,39,41.7,44.5,48,51.5,54.6,58.7,60.5,62.5,64.5,66.5,68.5,70.5,72.5,74.5,76.5,78.5,80.5,82.5,84.5,86.5,88.5,89.8]],
  [490.5, [42.4,45.9,48.6,59.7,62.5,65,67,69,71,73,75,77,79,81,82.4]],
  [501, [29.5,35,36.8,38.6,41.7,47.2,49,50.7,52.5,54.2,56,58,60,62,64,66,68,70,72,74,76,78,80,82.4]],
  [520.5, [-3.8,-1,2.4,5.9,37.5,47.9,50,52.1,54.9,58.4,60.1,66.7,68.8,84.4]],
  [577, [29.5,48.6,51.4,61.5,68.5,70.5,72.5,74.5,76.5,78.5,80.5,82.5,84.5,86.5,87.8]],
  [596.5, [58.4,60.5,62.5,64.5,66.5,68.5,70.5,72.5,74.5,76.5,78.5,80.5,82.5,84.5,86.5,88,89.5]]
];

// ── Helpers ─────────────────────────────────────────────────
function toPoints(rows) {
  return rows.flatMap(([d, vals]) => vals.map(v => ({ x: v, y: d })));
}

function datasets(rows0, rows10, rows20) {
  const styles = [
    { pointStyle: 'rectRot', pointRadius: 2.4, order: 3 },
    { pointStyle: 'rectRot', pointRadius: 2.4, order: 2 },
    { pointStyle: 'circle', pointRadius: 2.8, order: 1 }
  ];
  return [rows0, rows10, rows20].map((rows, i) => ({
    label: seriesNames[i],
    data: toPoints(rows),
    backgroundColor: seriesColors[i],
    borderWidth: 0,
    pointBorderWidth: 0,
    ...styles[i]
  }));
}

function sameValue(a, b) { return Math.abs(a - b) <= Math.abs(b) * 1e-9 + 1e-12; }

// inward tick marks + frame, placed through the scales
const frameTicks = {
  id: 'frameTicks',
  afterDraw(chart) {
    const { ctx, chartArea: a, scales: { x, y } } = chart;
    ctx.save();
    ctx.strokeStyle = '#000';
    ctx.lineWidth = 1.6;
    ctx.beginPath();
    x.ticks.forEach(t => {
      const px = Math.round(x.getPixelForValue(t.value)) + 0.5;
      if (px < a.left + 1 || px > a.right - 1) return;
      ctx.moveTo(px, a.top);
      ctx.lineTo(px, a.top + (t.long ? 16 : 8));
    });
    y.ticks.forEach(t => {
      const py = Math.round(y.getPixelForValue(t.value)) + 0.5;
      if (py < a.top + 1 || py > a.bottom - 1) return;
      ctx.moveTo(a.left, py);
      ctx.lineTo(a.left + (t.long ? 11 : 7), py);
    });
    ctx.stroke();
    ctx.lineWidth = 2;
    ctx.strokeRect(a.left, a.top, a.right - a.left, a.bottom - a.top);
    ctx.restore();
  }
};

function depthAxis(width, withTitle) {
  return {
    type: 'linear', position: 'left', reverse: true, min: 0, max: 600,
    grid: { display: false, drawTicks: false }, border: { display: false },
    afterBuildTicks: s => {
      const t = [];
      for (let d = 0; d <= 600; d += 20) t.push({ value: d, long: depthLabels.includes(d) });
      s.ticks = t;
    },
    afterFit: s => { s.width = width; },
    ticks: { autoSkip: false, padding: 8, font: { size: 20 },
      callback: v => depthLabels.includes(v) ? String(v) : '' },
    title: { display: withTitle, text: 'Depth CSF-A (m)', font: { size: 23 }, padding: { top: 11, bottom: 0 } }
  };
}

function baseOptions(xAxis, yAxis, padRight) {
  return {
    responsive: true, maintainAspectRatio: false, animation: false, events: [],
    layout: { padding: { top: 0, left: 0, right: padRight, bottom: 0 } },
    plugins: { legend: { display: false }, tooltip: { enabled: false } },
    scales: { x: xAxis, y: yAxis }
  };
}

// ── Intensity panel ─────────────────────────────────────────
new Chart(document.getElementById('intChart'), {
  type: 'scatter',
  data: { datasets: datasets(intensity0, intensity10, intensity20) },
  options: baseOptions({
    type: 'logarithmic', position: 'top', min: 0.00049, max: 0.84, bounds: 'data',
    grid: { display: false, drawTicks: false }, border: { display: false },
    afterBuildTicks: s => {
      const t = [];
      for (let e = -4; e <= 0; e++) {
        for (let m = 1; m <= 9; m++) {
          const v = m * Math.pow(10, e);
          if (v >= s.min && v <= s.max) t.push({ value: v, long: m === 1 });
        }
      }
      s.ticks = t;
    },
    afterFit: s => { s.height = 111; },
    ticks: { autoSkip: false, maxRotation: 0, padding: 3, font: { size: 20 },
      callback: v => {
        const l = intensityLabels.find(k => sameValue(v, k));
        return l === undefined ? '' : String(l);
      } },
    title: { display: true, text: 'Intensity (A/m)', font: { size: 23 }, padding: { top: 44, bottom: 0 } }
  }, depthAxis(98, true), 24),
  plugins: [frameTicks]
});

// ── Inclination panel ───────────────────────────────────────
new Chart(document.getElementById('incChart'), {
  type: 'scatter',
  data: { datasets: datasets(inclination0, inclination10, inclination20) },
  options: baseOptions({
    type: 'linear', position: 'top', min: -90, max: 90,
    grid: { display: false, drawTicks: false }, border: { display: false },
    afterBuildTicks: s => {
      const t = [];
      for (let v = -90; v <= 90; v += 5) t.push({ value: v, long: inclinationLabels.includes(v) });
      s.ticks = t;
    },
    afterFit: s => { s.height = 111; },
    ticks: { autoSkip: false, maxRotation: 0, padding: 3, align: 'inner', font: { size: 20 },
      callback: v => inclinationLabels.includes(v) ? String(v) : '' },
    title: { display: true, text: 'Inclination (°)', font: { size: 23 }, padding: { top: 44, bottom: 0 } }
  }, depthAxis(96, false), 13),
  plugins: [frameTicks]
});

// ── Legend ──────────────────────────────────────────────────
const dotSizes = [3, 3, 4];
document.getElementById('legend').innerHTML = seriesNames.map((n, i) =>
  `<div class="key" style="color:${seriesColors[i]}"><span class="m"><i style="width:${dotSizes[i]}px;height:${dotSizes[i]}px;background:${seriesColors[i]}"></i></span>${n}</div>`
).join('');
</script>
</body>
</html>
